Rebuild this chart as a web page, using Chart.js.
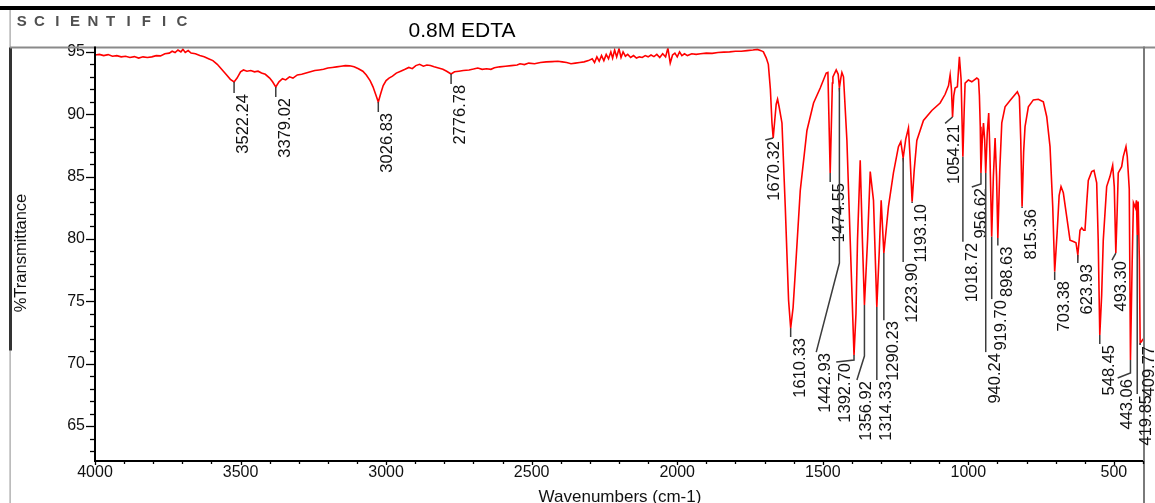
<!DOCTYPE html>
<html><head><meta charset="utf-8">
<script src="https://cdn.jsdelivr.net/npm/chart.js@4.4.1/dist/chart.umd.min.js"></script>
<style>html,body{margin:0;padding:0;background:#fff}#wrap{width:1155px;height:503px;position:relative}</style>
</head><body><div id="wrap"><canvas id="c"></canvas></div>
<script>
// ---- spectrum (wavenumber cm-1, %T) ----
const wavenumbers = [4000,3985,3970,3955,3940,3925,3910,3895,3880,3865,3850,3835,3820,3805,3790,3775,3760,3745,3735,3725,3715,3705,3698,3690,3680,3670,3655,3640,3625,3610,3595,3580,3565,3550,3535,3522.24,3512,3500,3490,3478,3465,3452,3440,3428,3415,3400,3390,3379.02,3368,3356,3345,3332,3320,3305,3290,3275,3260,3245,3230,3215,3200,3185,3170,3155,3140,3125,3110,3095,3080,3068,3055,3045,3036,3026.83,3018,3010,3000,2990,2978,2965,2950,2935,2922,2910,2898,2885,2872,2860,2848,2835,2820,2805,2792,2776.78,2765,2750,2735,2715,2700,2685,2670,2655,2640,2628,2610,2590,2570,2550,2540,2525,2510,2490,2470,2450,2430,2410,2395,2380,2365,2350,2335,2320,2305,2292,2284,2276,2268,2260,2252,2244,2236,2228,2222,2215,2208,2200,2193,2186,2178,2170,2160,2150,2140,2130,2120,2110,2100,2090,2080,2070,2060,2050,2040,2032,2024,2016,2008,2000,1992,1984,1975,1965,1950,1935,1920,1900,1880,1860,1840,1820,1800,1780,1760,1740,1725,1712,1704,1694,1687,1680,1674.5,1670.32,1665,1660,1655.3,1650,1640.2,1628.9,1617.5,1610.33,1602,1594.5,1577.3,1554.4,1531.7,1508.7,1488.2,1482.4,1474.55,1467,1465.2,1453.9,1447,1442.93,1438,1434.3,1428.8,1417.1,1405.8,1392.7,1386,1380.7,1371.4,1364,1356.92,1346,1337,1325.8,1314.33,1306,1299.4,1290.23,1274.4,1257.3,1240.1,1231.9,1223.9,1215,1205.7,1200,1193.1,1186,1176.9,1154.2,1125.4,1096.9,1079.7,1068,1062.5,1058,1054.21,1050,1045.5,1037.6,1030.7,1024.9,1018.72,1014,1011.1,999.8,988.1,970.9,965,962,959,956.62,952,948,944,940.24,935,930,926,919.7,914,908.1,903,898.63,892,885.1,873.8,856.7,831.6,824.7,820,815.36,810,805.2,793.8,776.7,759.5,742.4,730.7,719.4,710.1,703.38,695,688,681.6,673.7,662.1,650.7,639.4,630.2,623.93,619,616.4,610.6,604,599.3,593,587.9,576.3,568.4,559.1,554,548.45,542,536.5,524.8,513.5,504.2,498.7,493.3,489,485,473.3,467.8,458.5,454,447.2,443.06,437.3,432.9,426,422.5,419.85,416.7,412.5,409.77,404.5,400];
const transmittance = [94.75,94.8,94.7,94.78,94.65,94.7,94.6,94.65,94.55,94.62,94.5,94.6,94.55,94.6,94.7,94.68,94.85,94.9,95.05,94.95,95.15,95.0,95.2,94.95,95.1,94.9,94.85,94.7,94.6,94.45,94.3,94.0,93.6,93.2,92.8,92.59,92.9,93.4,93.55,93.45,93.5,93.4,93.45,93.3,93.2,92.9,92.6,92.19,92.6,92.85,92.75,93.0,92.9,93.15,93.2,93.3,93.4,93.5,93.55,93.6,93.7,93.75,93.8,93.85,93.9,93.88,93.8,93.65,93.45,93.15,92.7,92.2,91.6,90.98,91.7,92.3,92.7,92.9,93.05,93.3,93.45,93.6,93.75,93.65,93.9,94.0,93.85,93.95,93.9,93.8,93.7,93.6,93.45,93.23,93.4,93.45,93.5,93.55,93.62,93.7,93.6,93.65,93.6,93.72,93.8,93.85,93.9,93.95,94.05,93.98,94.1,94.05,94.15,94.2,94.22,94.25,94.2,94.15,94.05,94.1,94.15,94.2,94.3,94.45,94.15,94.6,94.25,94.7,94.3,94.8,94.45,95.0,94.5,95.15,94.6,95.25,94.55,95.0,94.65,94.8,94.55,94.7,94.5,94.6,94.55,94.7,94.6,94.75,94.62,94.8,94.55,94.85,94.6,95.3,94.1,94.75,94.9,94.6,95.0,94.7,94.85,94.7,94.85,94.8,94.85,94.9,94.88,94.95,94.98,95.0,95.05,95.05,95.1,95.15,95.2,95.1,95.0,94.5,94.0,92.0,89.3,88.1,89.5,90.8,91.2,90.6,89.3,82.6,75.1,72.86,74.5,77.3,83.9,88.7,90.9,92.1,93.3,93.35,85.29,92.5,93.0,93.55,93.2,92.11,92.9,93.35,93.0,87.9,79.9,70.69,74.0,79.9,86.3,80.0,74.7,80.0,85.4,83.1,74.54,79.0,83.1,78.87,82.6,85.3,87.4,87.8,86.49,88.0,88.9,86.5,82.99,85.5,87.9,89.5,90.3,90.9,91.6,92.3,93.15,92.0,89.78,91.5,92.1,92.2,94.6,92.8,86.6,90.5,92.5,92.75,92.6,92.9,92.8,91.5,89.0,85.29,88.0,89.3,88.0,85.29,88.5,90.1,87.0,80.18,85.0,88.1,85.0,80.08,85.5,89.3,90.6,91.1,91.8,91.4,88.0,82.59,87.0,89.0,90.6,91.15,91.2,91.0,89.8,87.4,82.6,77.37,80.5,83.5,84.2,83.7,81.8,79.9,79.8,79.7,78.71,80.0,80.7,80.9,80.7,80.7,83.0,84.7,85.4,85.5,84.5,80.0,72.3,75.5,79.9,84.2,85.0,85.9,84.2,78.87,82.0,85.3,85.8,86.6,87.4,86.6,84.0,70.3,78.0,82.9,82.5,83.1,80.32,83.0,78.3,71.66,71.8,72.0];

// ---- labelled peaks ----
const peakWavenumbers = [3522.24,3379.02,3026.83,2776.78,1670.32,1610.33,1474.55,1442.93,1392.70,1356.92,1314.33,1290.23,1223.90,1193.10,1054.21,1018.72,956.62,940.24,919.70,898.63,815.36,703.38,623.93,548.45,493.30,443.06,419.85,409.77];
const peakTransmittance = [92.59,92.19,90.98,93.23,88.10,72.86,85.29,92.11,70.69,74.70,74.54,78.87,86.49,82.99,89.78,86.60,85.29,85.29,80.18,80.08,82.59,77.37,78.71,72.30,78.87,70.30,80.32,71.66];
const peakLabels = ["3522.24","3379.02","3026.83","2776.78","1670.32","1610.33","1474.55","1442.93","1392.70","1356.92","1314.33","1290.23","1223.90","1193.10","1054.21","1018.72","956.62","940.24","919.70","898.63","815.36","703.38","623.93","548.45","493.30","443.06","419.85","409.77"];

// ---- axis ticks / texts ----
const xTicks = [4000,3500,3000,2500,2000,1500,1000,500];
const yTicks = [65,70,75,80,85,90,95];
const chartTitle = "0.8M EDTA";
const brandText = "SCIENTIFIC";
const xTitle = "Wavenumbers (cm-1)";
const yTitle = "%Transmittance";

// ---- label leader layout: [anchor wavenumber (null = same), anchor %T, knee %T (null = none)] ----
const leaderLayout = [
 [null,91.70,null],[null,91.38,null],[null,90.18,null],[null,92.43,null],
 [1697.5,87.93,null],[null,72.14,null],[null,84.57,null],[1522.5,70.93,78.07],
 [1453.8,70.13,70.29],[1382.8,68.69,70.61],[null,68.69,null],[null,73.49,null],
 [null,78.15,null],[null,82.88,null],[1079.8,89.27,null],[null,79.78,null],
 [988.1,84.17,84.41],[null,70.93,null],[null,75.18,null],[null,79.47,null],
 [null,82.48,null],[null,76.71,null],[null,78.07,null],[null,71.58,null],
 [506.6,78.31,null],[487,68.85,69.25],[null,67.57,null],[null,71.50,null]
];

const FONT = '"Liberation Sans", Arial, sans-serif';

const deco = {
  id: 'deco',
  beforeDraw(chart) {
    const ctx = chart.ctx;
    ctx.save(); ctx.fillStyle = '#fff'; ctx.fillRect(0, 0, chart.width, chart.height); ctx.restore();
  },
  afterDatasetsDraw(chart) {
    const { ctx, chartArea: a, scales: { x, y } } = chart;
    ctx.save();
    // page frame
    ctx.fillStyle = '#000'; ctx.fillRect(0, 6, chart.width, 4);
    ctx.fillStyle = '#a0a0a0'; ctx.fillRect(9.5, 10, 1.2, chart.height - 10);
    ctx.fillStyle = '#333'; ctx.fillRect(9, a.top, 3, 303);
    ctx.fillStyle = '#8a8a8a'; ctx.fillRect(10, a.top - 1, chart.width - 10, 2);
    ctx.fillStyle = '#7a7a7a'; ctx.fillRect(a.right, a.top - 1, 2, chart.height - a.top + 1);
    // axes
    ctx.fillStyle = '#000';
    ctx.fillRect(a.left - 1, a.top - 1, 2, a.bottom - a.top + 2);
    ctx.fillRect(a.left - 1, a.bottom - 1, a.right - a.left + 1, 2);
    ctx.strokeStyle = '#000'; ctx.lineWidth = 1.3;
    for (let v = 63; v <= 95; v++) {
      const py = Math.round(y.getPixelForValue(v)) + 0.5;
      const len = v % 5 === 0 ? 9 : 5;
      ctx.beginPath(); ctx.moveTo(a.left - len, py); ctx.lineTo(a.left, py); ctx.stroke();
    }
    for (let v = 400; v <= 4000; v += 100) {
      const px = Math.round(x.getPixelForValue(v)) + 0.5;
      const len = v % 500 === 0 ? 4 : 3;
      ctx.beginPath(); ctx.moveTo(px, a.bottom); ctx.lineTo(px, a.bottom + len); ctx.stroke();
    }
    // header
    ctx.fillStyle = '#505050'; ctx.font = 'bold 15px ' + FONT; ctx.textAlign = 'center'; ctx.textBaseline = 'alphabetic';
    for (let i = 0; i < brandText.length; i++) ctx.fillText(brandText[i], 21.7 + i * 17.8, 26);
    ctx.fillStyle = '#000'; ctx.font = '21px ' + FONT;
    ctx.fillText(chartTitle, 462, 37);
    // axis titles
    ctx.font = '17px ' + FONT; ctx.fillStyle = '#111';
    ctx.fillText(xTitle, 620, 502);
    ctx.save(); ctx.translate(21.5, 253); ctx.rotate(-Math.PI / 2);
    ctx.font = '16.5px ' + FONT; ctx.textBaseline = 'middle'; ctx.fillText(yTitle, 0, 0); ctx.restore();
    // peak leaders + labels
    ctx.strokeStyle = '#3c3c3c'; ctx.lineWidth = 1.5;
    ctx.font = '16.5px ' + FONT; ctx.fillStyle = '#111';
    for (let i = 0; i < peakWavenumbers.length; i++) {
      const [aw, at, kt] = leaderLayout[i];
      const px = x.getPixelForValue(peakWavenumbers[i]);
      const py = y.getPixelForValue(peakTransmittance[i]);
      const ax = x.getPixelForValue(aw === null ? peakWavenumbers[i] : aw);
      const ay = y.getPixelForValue(at);
      ctx.beginPath(); ctx.moveTo(px, py);
      if (kt !== null) ctx.lineTo(px, y.getPixelForValue(kt));
      ctx.lineTo(ax, ay); ctx.stroke();
      ctx.save(); ctx.translate(ax + 9.5, ay + 1); ctx.rotate(-Math.PI / 2);
      ctx.textAlign = 'right'; ctx.textBaseline = 'middle';
      ctx.fillText(peakLabels[i], 0, 0); ctx.restore();
    }
    ctx.restore();
  }
};

const points = wavenumbers.map((w, i) => ({ x: w, y: transmittance[i] }));

new Chart(document.getElementById('c'), {
  type: 'line',
  data: { datasets: [{ data: points, borderColor: '#ff0000', borderWidth: 1.6, pointRadius: 0, tension: 0, fill: false }] },
  options: {
    responsive: true, maintainAspectRatio: false, animation: false,
    layout: { padding: { top: 47.5, right: 12, left: 0, bottom: 0 } },
    plugins: { legend: { display: false }, tooltip: { enabled: false }, title: { display: false } },
    scales: {
      x: {
        type: 'linear', reverse: true, min: 400, max: 4000,
        afterBuildTicks: s => { s.ticks = xTicks.map(v => ({ value: v })); },
        grid: { display: false, drawTicks: false }, border: { display: false },
        ticks: { font: { family: FONT, size: 16 }, color: '#111', padding: 2, maxRotation: 0, autoSkip: false, callback: v => String(v) },
        afterFit: s => { s.height = 42; }
      },
      y: {
        type: 'linear', min: 62.2, max: 95.35,
        afterBuildTicks: s => { s.ticks = yTicks.map(v => ({ value: v })); },
        grid: { display: false, drawTicks: false }, border: { display: false },
        ticks: { font: { family: FONT, size: 16 }, color: '#111', padding: 10, callback: v => String(v) },
        afterFit: s => { s.width = 95; }
      }
    }
  },
  plugins: [deco]
});
</script></body></html>
